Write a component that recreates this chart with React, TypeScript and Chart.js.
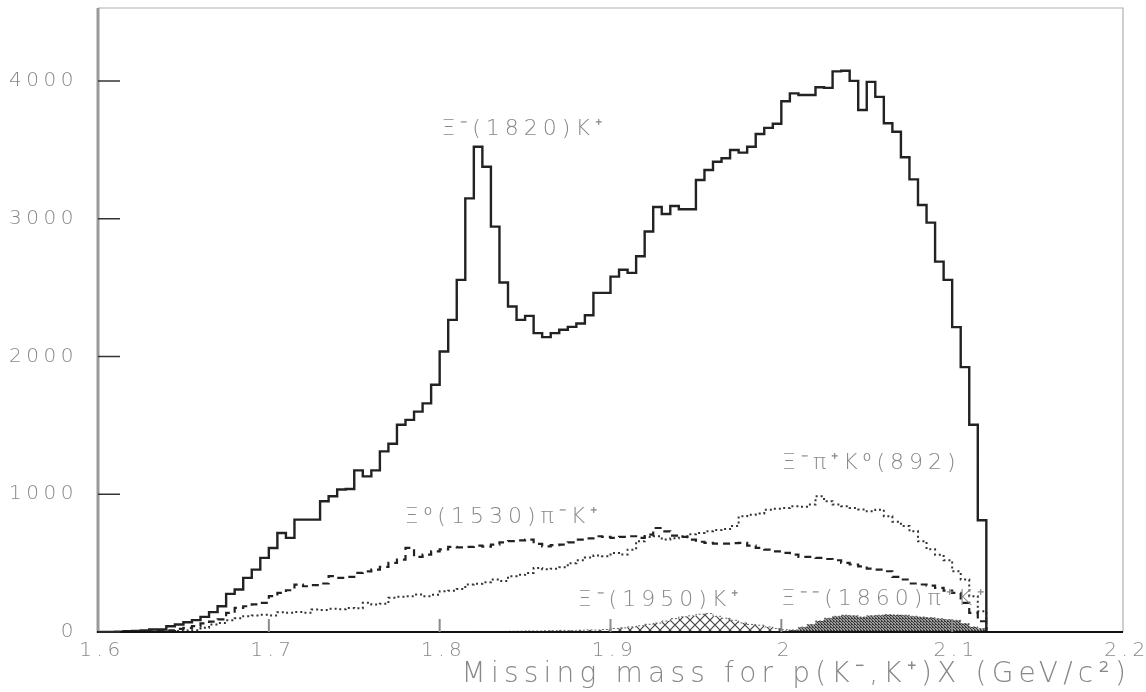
import React, { useEffect, useRef } from 'react';
import { Chart, registerables } from 'chart.js';

Chart.register(...registerables);

// Histogram binning (GeV/c^2)
const BIN_LOW = 1.6;
const BIN_WIDTH = 0.005;

// Total missing-mass spectrum (counts per 5 MeV bin, 1.600 - 2.120)
const totalCounts = [
  0, 0, 2, 6, 8, 11, 18, 18, 42, 54,
  71, 86, 110, 144, 187, 277, 308, 393, 453, 538,
  610, 719, 683, 816, 816, 816, 949, 985, 1035, 1038,
  1173, 1130, 1173, 1311, 1367, 1505, 1540, 1600, 1660, 1795,
  2036, 2266, 2556, 3148, 3523, 3378, 2943, 2537, 2363, 2266,
  2295, 2170, 2141, 2170, 2194, 2215, 2240, 2300, 2462, 2462,
  2580, 2630, 2607, 2728, 2907, 3085, 3035, 3093, 3069, 3069,
  3281, 3354, 3414, 3439, 3499, 3480, 3523, 3615, 3660, 3690,
  3853, 3910, 3898, 3898, 3955, 3950, 4070, 4074, 4001, 3789,
  3994, 3885, 3693, 3632, 3446, 3286, 3100, 2972, 2689, 2556,
  2213, 1923, 1505, 811,
];

// Xi0(1530) pi- K+ (dashed)
const xi1530PiK = [
  0, 0, 0, 1, 2, 3, 4, 6, 12, 23,
  30, 42, 62, 75, 91, 139, 175, 187, 200, 212,
  260, 284, 303, 344, 332, 340, 352, 405, 393, 400,
  429, 440, 453, 473, 502, 526, 610, 545, 562, 586,
  600, 618, 615, 618, 627, 620, 635, 651, 660, 665,
  671, 640, 622, 630, 635, 650, 671, 680, 695, 690,
  683, 690, 695, 683, 707, 755, 731, 700, 690, 670,
  655, 647, 642, 642, 645, 647, 627, 610, 598, 586,
  575, 562, 545, 545, 538, 530, 521, 502, 490, 477,
  460, 453, 441, 400, 381, 352, 345, 337, 320, 300,
  284, 212, 139, 78,
];

// Xi- pi+ K0(892) (dotted)
const xiPiK892 = [
  0, 0, 0, 0, 0, 1, 2, 3, 5, 8,
  10, 13, 30, 55, 66, 85, 100, 115, 120, 125,
  120, 144, 139, 145, 139, 163, 160, 168, 165, 175,
  172, 212, 199, 205, 248, 255, 260, 272, 260, 270,
  296, 300, 312, 344, 350, 361, 381, 370, 405, 415,
  429, 465, 455, 460, 470, 500, 520, 540, 555, 550,
  574, 562, 598, 659, 690, 695, 671, 680, 695, 710,
  719, 731, 740, 748, 770, 840, 852, 860, 888, 895,
  900, 913, 910, 925, 985, 949, 925, 913, 900, 890,
  876, 888, 840, 800, 770, 731, 659, 600, 560, 521,
  441, 381, 260, 150,
];

// Xi-(1950) K+ (cross-hatched)
const xi1950K = [
  0, 0, 0, 0, 0, 0, 0, 0, 0, 0,
  0, 0, 0, 0, 0, 0, 0, 0, 0, 0,
  0, 0, 0, 0, 0, 0, 0, 0, 0, 0,
  0, 0, 0, 0, 0, 0, 0, 0, 0, 0,
  2, 3, 2, 3, 4, 3, 4, 4, 5, 6,
  8, 7, 9, 10, 12, 10, 13, 15, 14, 18,
  25, 30, 37, 45, 56, 65, 80, 97, 110, 117,
  129, 134, 114, 100, 85, 66, 55, 49, 37, 25,
  17, 10, 5, 3, 0, 0, 0, 0, 0, 0,
  0, 0, 0, 0, 0, 0, 0, 0, 0, 0,
  0, 0, 0, 0,
];

// Xi--(1860) pi+ K+ (dense fill)
const xi1860PiK = [
  0, 0, 0, 0, 0, 0, 0, 0, 0, 0,
  0, 0, 0, 0, 0, 0, 0, 0, 0, 0,
  0, 0, 0, 0, 0, 0, 0, 0, 0, 0,
  0, 0, 0, 0, 0, 0, 0, 0, 0, 0,
  0, 0, 0, 0, 0, 0, 0, 0, 0, 0,
  0, 0, 0, 0, 0, 0, 0, 0, 0, 0,
  0, 0, 0, 0, 0, 0, 0, 0, 0, 0,
  0, 0, 0, 0, 0, 0, 0, 0, 0, 3,
  8, 15, 35, 55, 80, 100, 114, 122, 118, 109,
  118, 122, 126, 124, 122, 114, 109, 104, 97, 90,
  85, 61, 37, 25,
];

const xTickValues = [1.6, 1.7, 1.8, 1.9, 2.0, 2.1, 2.2];
const yTickValues = [0, 1000, 2000, 3000, 4000];
const xTitle = 'Missing mass for p(K\u207B,K\u207A)X (GeV/c\u00B2)';

const annotationTexts = [
  'Ξ\u207B(1820)K\u207A',
  'Ξ\u2070(1530)π\u207BK\u207A',
  'Ξ\u207Bπ\u207AK\u2070(892)',
  'Ξ\u207B(1950)K\u207A',
  'Ξ\u207B\u207B(1860)π\u207AK\u207A',
];
const annotationX = [1.801, 1.7795, 2.0004, 1.8808, 2.0];
const annotationY = [3651, 830, 1222, 232, 236];

const FONT = '"DejaVu Sans", "Liberation Sans", sans-serif';
const TEXT_GRAY = '#888888';

function toSteps(values: number[]) {
  const pts = values.map((v, i) => ({ x: BIN_LOW + i * BIN_WIDTH, y: v }));
  pts.push({ x: BIN_LOW + values.length * BIN_WIDTH, y: 0 });
  return pts;
}

function makeCrossHatch(): CanvasPattern | string {
  const c = document.createElement('canvas');
  c.width = 10;
  c.height = 10;
  const g = c.getContext('2d');
  if (!g) return '#999';
  g.strokeStyle = '#444';
  g.lineWidth = 1.2;
  g.beginPath();
  g.moveTo(0, 0);
  g.lineTo(10, 10);
  g.moveTo(10, 0);
  g.lineTo(0, 10);
  g.stroke();
  return g.createPattern(c, 'repeat') || '#999';
}

function makeDense(): CanvasPattern | string {
  const c = document.createElement('canvas');
  c.width = 3;
  c.height = 3;
  const g = c.getContext('2d');
  if (!g) return '#666';
  g.fillStyle = '#9a9a9a';
  g.fillRect(0, 0, 3, 3);
  g.fillStyle = '#3a3a3a';
  g.fillRect(0, 0, 1, 1);
  g.fillRect(1, 1, 1, 1);
  g.fillRect(2, 2, 1, 1);
  g.fillRect(2, 0, 1, 1);
  return g.createPattern(c, 'repeat') || '#666';
}

function drawText(
  ctx: CanvasRenderingContext2D,
  text: string,
  x: number,
  y: number,
  size: number,
  align: CanvasTextAlign,
  spacing: number,
) {
  ctx.save();
  ctx.font = `200 ${size}px ${FONT}`;
  ctx.fillStyle = TEXT_GRAY;
  ctx.textAlign = align;
  ctx.textBaseline = 'middle';
  (ctx as any).letterSpacing = `${spacing}px`;
  ctx.fillText(text, x, y);
  ctx.restore();
}

const framePlugin = {
  id: 'pawFrame',
  beforeDraw(chart: any) {
    const ctx = chart.ctx as CanvasRenderingContext2D;
    ctx.save();
    ctx.fillStyle = '#ffffff';
    ctx.fillRect(0, 0, chart.width, chart.height);
    ctx.restore();
  },
  afterDatasetsDraw(chart: any) {
    const ctx = chart.ctx as CanvasRenderingContext2D;
    const { left, right, top, bottom } = chart.chartArea;
    const xs = chart.scales.x;
    const ys = chart.scales.y;
    ctx.save();
    // top and right frame
    ctx.strokeStyle = '#b0b0b0';
    ctx.lineWidth = 1.2;
    ctx.beginPath();
    ctx.moveTo(left, top);
    ctx.lineTo(right, top);
    ctx.lineTo(right, bottom);
    ctx.stroke();
    // left axis
    ctx.strokeStyle = '#9a9a9a';
    ctx.lineWidth = 3;
    ctx.beginPath();
    ctx.moveTo(left, top);
    ctx.lineTo(left, bottom + 1);
    ctx.stroke();
    // bottom axis
    ctx.strokeStyle = '#111111';
    ctx.lineWidth = 2;
    ctx.beginPath();
    ctx.moveTo(left - 1, bottom);
    ctx.lineTo(right, bottom);
    ctx.stroke();
    // y ticks (inward)
    ctx.strokeStyle = '#333333';
    ctx.lineWidth = 1.5;
    yTickValues.forEach((v) => {
      const py = ys.getPixelForValue(v);
      ctx.beginPath();
      ctx.moveTo(left, py);
      ctx.lineTo(left + 22, py);
      ctx.stroke();
    });
    // x ticks (inward)
    ctx.strokeStyle = '#8a8a8a';
    ctx.lineWidth = 2;
    xTickValues.forEach((v) => {
      const px = xs.getPixelForValue(v);
      if (v <= BIN_LOW || v >= 2.2) return;
      ctx.beginPath();
      ctx.moveTo(px, bottom);
      ctx.lineTo(px, bottom - 13);
      ctx.stroke();
    });
    ctx.restore();

    // tick labels
    yTickValues.forEach((v) => {
      drawText(ctx, String(v), 78, ys.getPixelForValue(v), 20, 'right', 4.5);
    });
    xTickValues.forEach((v) => {
      const label = String(parseFloat(v.toFixed(2)));
      drawText(ctx, label, xs.getPixelForValue(v) + 4, bottom + 19, 20, 'center', 4.5);
    });
    // axis title
    drawText(ctx, xTitle, 1131, 675, 28, 'right', 5.2);
    // annotations
    annotationTexts.forEach((t, i) => {
      drawText(ctx, t, xs.getPixelForValue(annotationX[i]), ys.getPixelForValue(annotationY[i]), 22, 'left', 5);
    });
  },
};

export default function App() {
  const canvasRef = useRef<HTMLCanvasElement | null>(null);

  useEffect(() => {
    const canvas = canvasRef.current;
    if (!canvas) return;
    const chart = new Chart(canvas, {
      type: 'line',
      data: {
        datasets: [
          {
            label: 'total',
            data: toSteps(totalCounts),
            stepped: true,
            borderColor: '#222222',
            borderWidth: 2.4,
            pointRadius: 0,
            fill: false,
            order: 0,
          },
          {
            label: 'Ξ0(1530)π-K+',
            data: toSteps(xi1530PiK),
            stepped: true,
            borderColor: '#222222',
            borderWidth: 2.2,
            borderDash: [7, 5],
            pointRadius: 0,
            fill: false,
            order: 1,
          },
          {
            label: 'Ξ-π+K0(892)',
            data: toSteps(xiPiK892),
            stepped: true,
            borderColor: '#333333',
            borderWidth: 2,
            borderDash: [2, 3],
            pointRadius: 0,
            fill: false,
            order: 2,
          },
          {
            label: 'Ξ-(1950)K+',
            data: toSteps(xi1950K),
            stepped: true,
            borderColor: '#666666',
            borderWidth: 1,
            borderDash: [2, 2],
            backgroundColor: makeCrossHatch() as any,
            pointRadius: 0,
            fill: 'origin',
            order: 3,
          },
          {
            label: 'Ξ--(1860)π+K+',
            data: toSteps(xi1860PiK),
            stepped: true,
            borderColor: '#666666',
            borderWidth: 1,
            borderDash: [2, 2],
            backgroundColor: makeDense() as any,
            pointRadius: 0,
            fill: 'origin',
            order: 4,
          },
        ],
      },
      options: {
        animation: false,
        responsive: true,
        maintainAspectRatio: false,
        layout: { padding: { left: 98, right: 23, top: 8, bottom: 60 } },
        plugins: {
          legend: { display: false },
          tooltip: { enabled: false },
        },
        scales: {
          x: { type: 'linear', min: 1.6, max: 2.2, display: false },
          y: { type: 'linear', min: 0, max: 4530, display: false },
        },
      },
      plugins: [framePlugin],
    });
    return () => chart.destroy();
  }, []);

  return (
    <div style={{ position: 'absolute', left: 0, top: 0, width: 1146, height: 692, background: '#fff' }}>
      <canvas ref={canvasRef} />
    </div>
  );
}
